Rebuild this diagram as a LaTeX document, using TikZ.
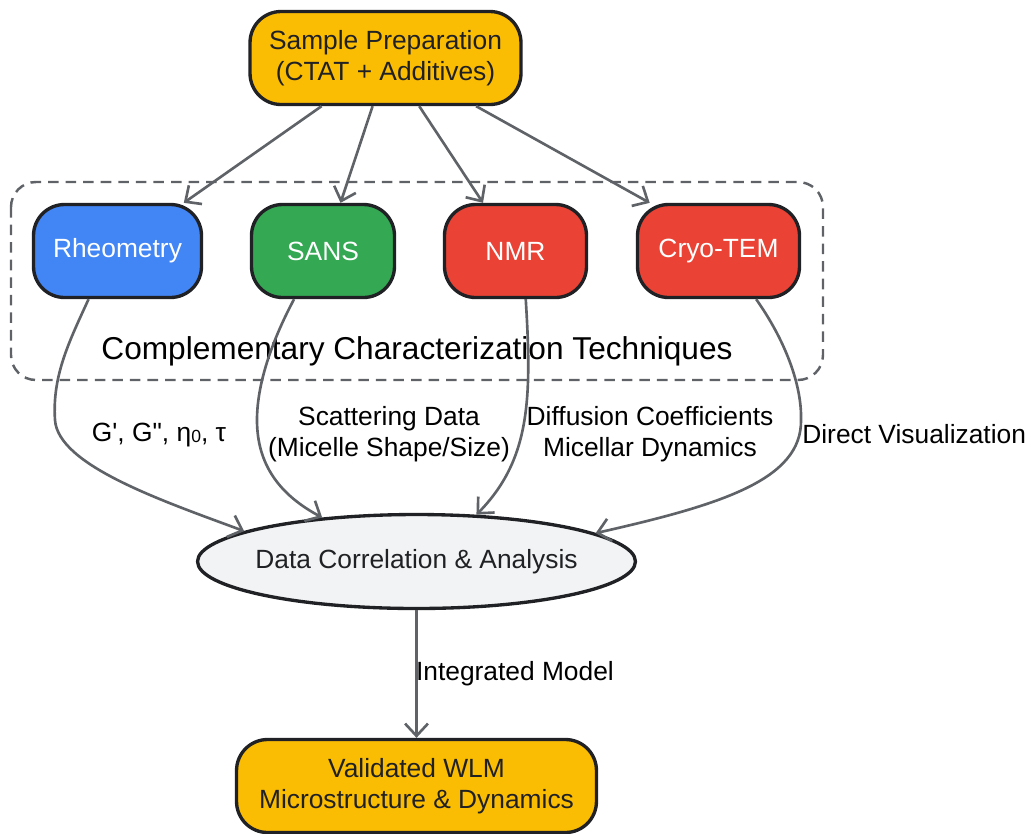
\documentclass[tikz,border=0pt]{standalone}
\usepackage{fontspec}
\setmainfont{Liberation Sans}
\usetikzlibrary{shapes.geometric, arrows.meta}
\definecolor{prepyellow}{HTML}{FBBC04}
\definecolor{rheoblue}{HTML}{4285F4}
\definecolor{sansgreen}{HTML}{34A853}
\definecolor{techred}{HTML}{EA4335}
\definecolor{corrgray}{HTML}{F1F3F4}
\definecolor{edgegray}{HTML}{5F6368}
\definecolor{textdark}{HTML}{202124}
\tikzset{
	block/.style n args={2}{
		draw=textdark, % Draw a border
		line width=1.9pt, % Thick border
		rectangle, % Shape of the node
		rounded corners=0.62cm, % Pill-like corners
		minimum height=1.86cm, % Minimum height of the node
		align=center, % Text alignment within the node
		font=\fontsize{15}{18}\selectfont,
		% Apply fill and text colour based on parameters
		fill=#1,
		text=#2
	},
	flow/.style={
		draw=edgegray, % Grey connector
		line width=1.5pt,
		-{Straight Barb[length=7pt, width=13pt, line width=1.5pt]}
	},
	edgelabel/.style={
		align=center,
		font=\fontsize{15}{18}\selectfont
	}
}

\begin{document}
\begin{tikzpicture}[x=0.02cm, y=-0.02cm]
	\useasboundingbox (0,0) rectangle (1028,833);
	
	% group of techniques
	\draw[draw=edgegray, line width=1.4pt, dash pattern=on 6pt off 4pt, rounded corners=0.5cm] (11,182) rectangle (823,380);
	\node[font=\fontsize{18}{20}\selectfont] (group) at (417,351) {Complementary Characterization Techniques};
	
	\node[block={prepyellow}{textdark}, minimum width=5.42cm] (prep) at (385.5,58) {Sample Preparation\\(CTAT + Additives)};
	
	\node[block={rheoblue}{white}, minimum width=3.36cm] (rheo) at (117.5,251) {Rheometry};
	\node[block={sansgreen}{white}, minimum width=2.86cm] (sans) at (323,251) {SANS};
	\node[block={techred}{white}, minimum width=2.84cm] (nmr) at (515.5,251) {NMR};
	\node[block={techred}{white}, minimum width=3.24cm] (cryo) at (718.5,251) {Cryo-TEM};
	
	\draw[flow] (prep.-143.6) -- (rheo.36);
	\draw[flow] (prep.-105) -- (sans.70);
	\draw[flow] (prep.-55.5) -- (nmr.124);
	\draw[flow] (prep.-28) -- (cryo.145);
	
	\node[draw=textdark, line width=1.9pt, ellipse, fill=corrgray, text=textdark, inner sep=0pt,
		minimum width=8.76cm, minimum height=1.88cm, font=\fontsize{15}{18}\selectfont] (corr) at (416.5,561.5) {\makebox[5cm]{Data Correlation \& Analysis}};
	
	\draw[flow] (rheo.-121) .. controls (70,340) and (52,375) .. (55,420) .. controls (58,465) and (160,500) .. (corr.170);
	\draw[flow] (sans.-121) .. controls (275,335) and (257,380) .. (257,420) .. controls (257,465) and (280,495) .. (corr.155);
	\draw[flow] (nmr.-78) .. controls (532,400) and (530,460) .. (corr.38.8);
	\draw[flow] (cryo.-52) .. controls (785,340) and (802,385) .. (801,420) .. controls (802,480) and (720,505) .. (corr.9);
	
	\node[edgelabel] (lrheo) at (159,435) {G\textquotesingle, G\textquotedbl, η\raisebox{-0.6pt}{\fontsize{10}{10}\selectfont 0}, τ};
	\node[edgelabel] (lsans) at (389,434) {Scattering Data\\(Micelle Shape/Size)};
	\node[edgelabel] (lnmr) at (650,434) {Diffusion Coefficients\\Micellar Dynamics};
	\node[edgelabel, anchor=west, inner sep=0pt] (lcryo) at (802,434) {Direct Visualization};
	
	\node[block={prepyellow}{textdark}, minimum width=7.2cm] (wlm) at (416.5,786) {Validated WLM\\Microstructure \& Dynamics};
	
	\draw[flow] (corr) -- node[edgelabel, anchor=west, inner sep=0pt, xshift=-1pt] (lmodel) {Integrated Model} (wlm);
\end{tikzpicture}
\end{document}
